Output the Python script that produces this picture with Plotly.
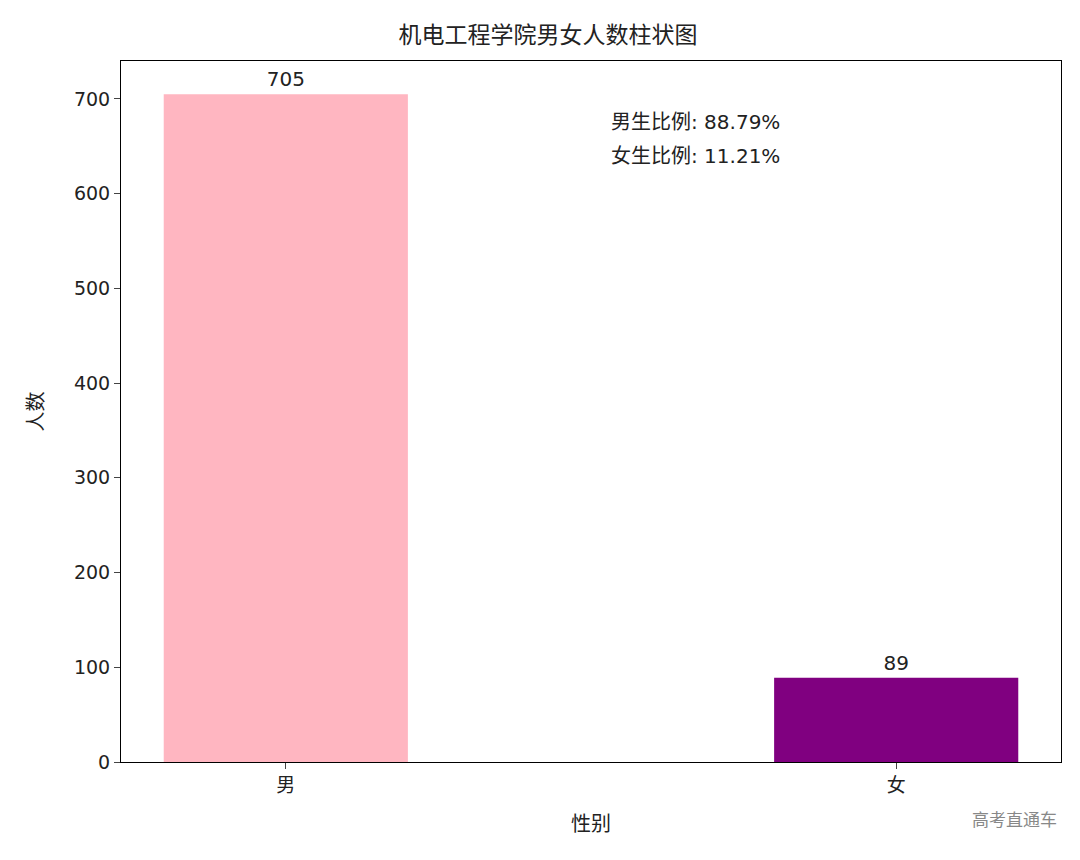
import plotly.graph_objects as go

categories = ["男", "女"]
counts = [705, 89]
colors = ["#FFB6C1", "#800080"]
ratio_lines = ["男生比例: 88.79%", "女生比例: 11.21%"]

F = "DejaVu Sans, Noto Sans CJK SC"
fig = go.Figure(go.Bar(x=[0, 1], y=counts, width=0.4, marker_color=colors, marker_line_width=0,
                       text=[str(c) for c in counts], textposition="outside",
                       textfont=dict(size=20, color="#222"), cliponaxis=False))
fig.update_layout(
    width=1080, height=860, plot_bgcolor="white", paper_bgcolor="white",
    margin=dict(l=113, r=27, t=53, b=106), showlegend=False,
    font=dict(family=F, size=19, color="#222"),
    title=dict(text="机电工程学院男女人数柱状图", x=0.5, xanchor="center", y=0.978, font=dict(size=23)),
    xaxis=dict(range=[-0.27, 1.27], tickvals=[0, 1], ticktext=categories, ticks="outside",
               ticklen=6, showgrid=False, showline=True, linecolor="black", mirror=True,
               zeroline=False, title=dict(text="性别", standoff=22, font=dict(size=20))),
    yaxis=dict(range=[0, 740], tickvals=list(range(0, 701, 100)), ticks="outside", ticklen=6,
               showgrid=False, showline=True, linecolor="black", mirror=True, zeroline=False,
               title=dict(text="人数", standoff=24, font=dict(size=20))),
)
for i, t in enumerate(ratio_lines):
    fig.add_annotation(x=0.672, y=676 - i * 36, xref="x", yref="y", text=t, showarrow=False,
                       font=dict(size=20), yanchor="middle")
fig.add_annotation(xref="paper", yref="paper", x=0.998, y=-0.1, xanchor="right",
                   text="高考直通车", showarrow=False, font=dict(size=17, color="#888"))
fig.write_html("out.html")
